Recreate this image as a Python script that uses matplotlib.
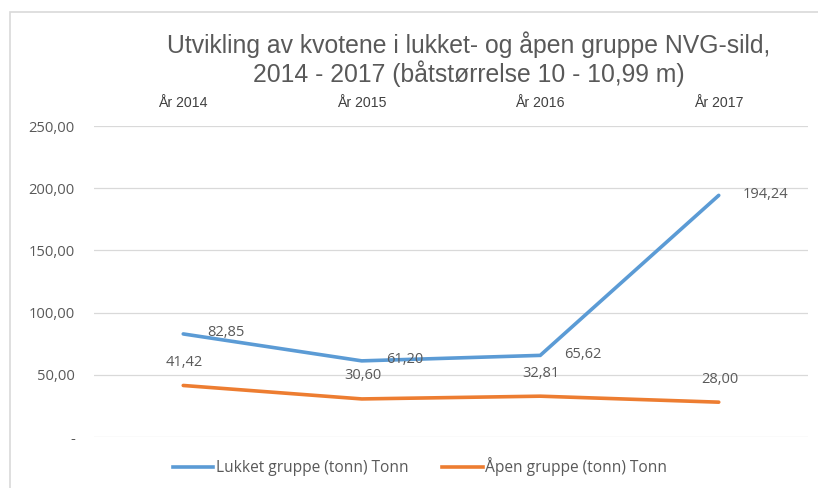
import matplotlib
matplotlib.use("Agg")
import matplotlib.pyplot as plt
from matplotlib.patches import Rectangle
from matplotlib.lines import Line2D

years = ["År 2014", "År 2015", "År 2016", "År 2017"]
lukket = [82.85, 61.20, 65.62, 194.24]
apen = [41.42, 30.60, 32.81, 28.00]
series_names = ["Lukket gruppe (tonn) Tonn", "Åpen gruppe (tonn) Tonn"]
yticks = [0, 50, 100, 150, 200, 250]
title = "Utvikling av kvotene i lukket- og åpen gruppe NVG-sild,\n2014 - 2017 (båtstørrelse 10 - 10,99 m)"

title_font = "Liberation Sans"
body = "Open Sans"

BLUE = "#5B9BD5"
ORANGE = "#ED7D31"
GRAY = "#595959"
GRID = "#D9D9D9"

W, H = 818, 488
fig = plt.figure(figsize=(W / 100, H / 100), dpi=100)
fig.patch.set_facecolor("white")

# outer chart frame (partly visible)
fig.add_artist(Rectangle((10 / W, -0.1), 1.2, 1 - 12 / H + 0.1, transform=fig.transFigure,
                         fill=False, edgecolor=GRID, linewidth=1.2))

ax = fig.add_axes([94 / W, 1 - 437 / H, (808 - 94) / W, (437 - 126) / H])
x = list(range(len(years)))
ax.plot(x, lukket, color=BLUE, linewidth=2.6, solid_capstyle="round", solid_joinstyle="miter", zorder=3)
ax.plot(x, apen, color=ORANGE, linewidth=2.6, solid_capstyle="round", solid_joinstyle="miter", zorder=3)

ax.set_xlim(-0.5, len(years) - 0.5)
ax.set_ylim(0, 250)
ax.set_yticks(yticks)
ax.set_yticklabels(["-" if v == 0 else f"{v:.2f}".replace(".", ",") for v in yticks],
                   fontsize=10.6, color=GRAY, family=body)
ax.tick_params(axis="y", length=0, pad=13.7)
ax.xaxis.tick_top()
ax.set_xticks(x)
ax.set_xticklabels(years, fontsize=10.2, color="#404040", family=title_font)
ax.tick_params(axis="x", length=0, pad=11.5)
ax.grid(axis="y", color=GRID, linewidth=0.9)
ax.set_axisbelow(True)
for s in ax.spines.values():
    s.set_visible(False)

def fmt(v):
    return f"{v:.2f}".replace(".", ",")

for xi, v in zip(x, lukket):
    ax.annotate(fmt(v), (xi, v), xytext=(24, 1), textcoords="offset pixels",
                ha="left", va="center", fontsize=10.5, color=GRAY, family=body)
for xi, v in zip(x, apen):
    ax.annotate(fmt(v), (xi, v), xytext=(1, 23), textcoords="offset pixels",
                ha="center", va="center", fontsize=10.5, color=GRAY, family=body)

fig.text(469 / W, 1 - 59 / H, title, ha="center", va="center", fontsize=17.8,
         color=GRAY, family=title_font, linespacing=1.12)

# legend
handles = [Line2D([], [], color=BLUE, linewidth=2.6), Line2D([], [], color=ORANGE, linewidth=2.6)]
fig.legend(handles, series_names, loc="center", bbox_to_anchor=(420 / W, 1 - 467 / H), ncol=2,
           frameon=False, handlelength=2.6, handletextpad=0.15, columnspacing=2.2,
           prop={"family": body, "size": 11.2}, labelcolor=GRAY)

fig.savefig("out.png", dpi=100, facecolor="white")
